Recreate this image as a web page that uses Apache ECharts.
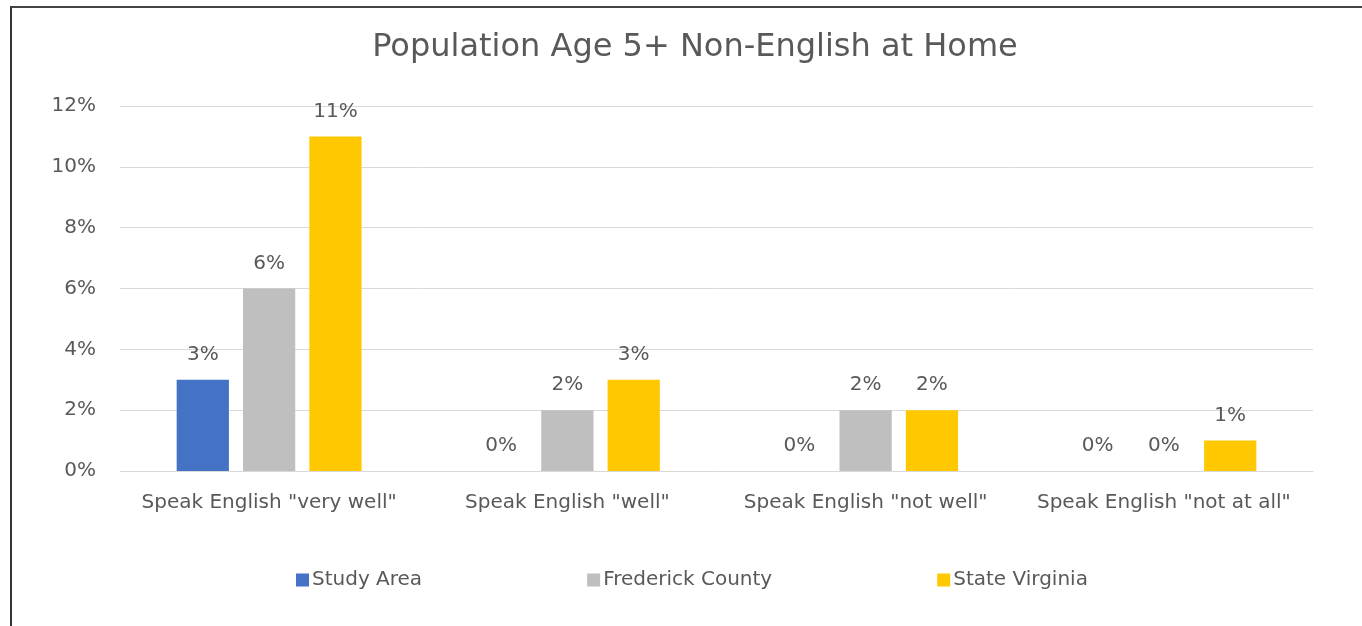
<!DOCTYPE html>
<html>
<head>
<meta charset="utf-8">
<script src="https://cdn.jsdelivr.net/npm/echarts@6/dist/echarts.min.js"></script>
<style>
  html, body { margin: 0; padding: 0; background: #fff; }
  #frame {
    position: absolute;
    left: 10px;
    top: 6px;
    width: 1352px;
    height: 620px;
    border-top: 2px solid #444;
    border-left: 2px solid #333;
    box-sizing: border-box;
  }
  #chart { position: absolute; left: 0; top: 0; width: 1362px; height: 626px; }
</style>
</head>
<body>
<div id="frame"></div>
<div id="chart"></div>
<script>
const categories = [
  'Speak English "very well"',
  'Speak English "well"',
  'Speak English "not well"',
  'Speak English "not at all"'
]
const studyArea = [3, 0, 0, 0]
const frederickCounty = [6, 2, 2, 0]
const stateVirginia = [11, 3, 2, 1]
const yTicks = [0, 2, 4, 6, 8, 10, 12]

const font = 'DejaVu Sans, sans-serif'
const textColor = '#595959'

const chart = echarts.init(document.getElementById('chart'))

// 数据标签
const label = {
  show: true,
  position: 'top',
  distance: 15,
  formatter: p => p.value + '%',
  color: textColor,
  fontSize: 20,
  fontFamily: font
}

function bar(name, data, color) {
  return {
    name: name,
    type: 'bar',
    data: data,
    barGap: '27%',
    barCategoryGap: '38%',
    itemStyle: { color: color },
    label: label
  }
}

chart.setOption({
  animation: false,
  title: {
    text: 'Population Age 5+ Non-English at Home',
    left: 690,
    textAlign: 'center',
    top: 27,
    textStyle: {
      color: textColor,
      fontSize: 32,
      fontWeight: 'normal',
      fontFamily: font
    }
  },
  legend: {
    bottom: 31,
    left: 291,
    itemWidth: 13,
    itemHeight: 13,
    itemGap: 165,
    icon: 'rect',
    textStyle: { color: textColor, fontSize: 20, fontFamily: font, padding: [0, 0, 0, -2] }
  },
  // 调整布局
  grid: {
    left: 120,
    right: 49,
    top: 106,
    bottom: 155
  },
  xAxis: {
    type: 'category',
    data: categories,
    axisLine: { show: true, lineStyle: { color: '#d9d9d9' } },
    axisTick: { show: false },
    axisLabel: {
      interval: 0,
      color: textColor,
      fontSize: 20,
      fontFamily: font,
      margin: 22
    }
  },
  yAxis: {
    type: 'value',
    min: yTicks[0],
    max: yTicks[yTicks.length - 1],
    interval: 2,
    axisLine: { show: false },
    axisTick: { show: false },
    splitLine: { lineStyle: { color: '#d9d9d9' } },
    axisLabel: {
      color: textColor,
      fontSize: 20,
      fontFamily: font,
      margin: 24,
      formatter: v => v + '%'
    }
  },
  series: [
    bar('Study Area', studyArea, '#4472c4'),
    bar('Frederick County', frederickCounty, '#bfbfbf'),
    bar('State Virginia', stateVirginia, '#ffc800')
  ]
})
</script>
</body>
</html>
